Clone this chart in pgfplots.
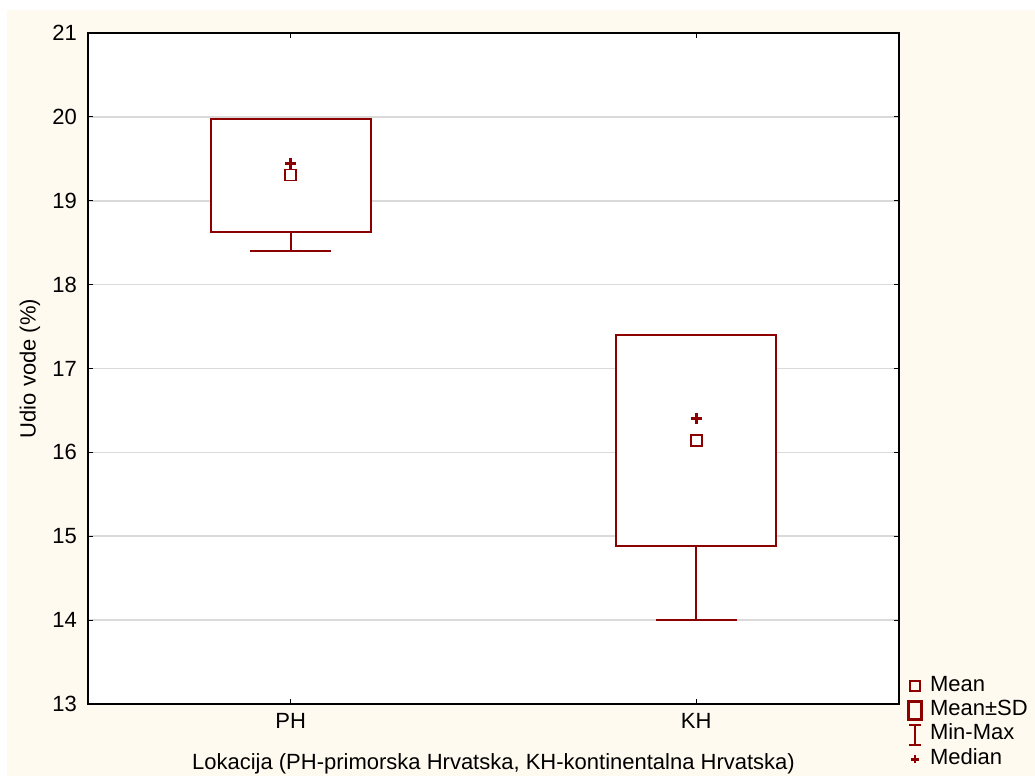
\documentclass[border=0pt]{standalone}
\usepackage{pgfplots}
\pgfplotsset{compat=1.18}
\usepgfplotslibrary{statistics}
\usepackage{fontspec}
\setmainfont{Liberation Sans}

\definecolor{boxred}{RGB}{140,0,0}
\definecolor{cream}{RGB}{255,250,240}
\definecolor{gridgray}{RGB}{218,218,218}

\begin{document}
\begin{tikzpicture}[font=\fontsize{11}{13}\selectfont]
% page and panel background (1px = 0.5pt, origin at the axis' lower left corner)
\fill[white] (-44pt,-37pt) rectangle (473.5pt,352pt);
\fill[cream] (-40.5pt,-36pt) rectangle (473.5pt,347pt);
\begin{axis}[
    scale only axis,
    width=405.5pt, height=335.5pt,
    xmin=0.5, xmax=2.5,
    ymin=13, ymax=21,
    xtick={1,2}, xticklabels={PH,KH},
    ytick={13,14,...,21},
    ymajorgrids,
    grid style={gridgray, line width=0.8pt},
    axis line style={line width=0.9pt},
    tick style={black, line width=0.6pt},
    tick align=inside,
    major tick length=2.5pt,
    axis background/.style={fill=white},
    /pgf/number format/assume math mode=true,
    yticklabel style={xshift=-2pt},
    xticklabel style={yshift=-1pt},
    xlabel={Lokacija (PH-primorska Hrvatska, KH-kontinentalna Hrvatska)},
    ylabel={Udio vode (\%)},
    x label style={at={(axis description cs:0.5,0)}, anchor=center, yshift=-30pt},
    y label style={at={(axis description cs:-0.0715,0.5)}, anchor=center},
    boxplot/draw direction=y,
    boxplot/draw/median/.code={},
    legend style={
        draw=none, fill=none,
        at={(rel axis cs:1.002,0.051)}, anchor=north west,
        row sep=0.2pt, column sep=2pt,
        nodes={inner sep=1.5pt, text height=7pt, text depth=2pt},
    },
    legend cell align=left,
]
% Mean +- SD boxes with Min-Max whiskers
\addplot[boxred, fill=white, line width=1pt, forget plot,
    boxplot prepared={lower whisker=18.40, lower quartile=18.63,
        median=19.30, upper quartile=19.976, upper whisker=19.976,
        box extend=0.395, whisker extend=0.2, draw position=1}]
    coordinates {};
\addplot[boxred, fill=white, line width=1pt, forget plot,
    boxplot prepared={lower whisker=14.00, lower quartile=14.88,
        median=16.14, upper quartile=17.40, upper whisker=17.40,
        box extend=0.395, whisker extend=0.2, draw position=2}]
    coordinates {};
% means
\addplot[only marks, mark=square, mark size=2.75pt, boxred,
    line width=0.75pt, mark options={fill=white}, forget plot]
    coordinates {(1,19.305) (2,16.14)};
% medians
\addplot[only marks, mark=+, mark size=2.75pt, boxred,
    line width=1.5pt, forget plot]
    coordinates {(1,19.45) (2,16.40)};

\addlegendimage{legend image code/.code={
    \path[draw=none, fill=none] (-4pt,-5pt) rectangle (4pt,5pt);
    \draw[draw=boxred, fill=none, line width=0.75pt] (-2.5pt,-2.5pt) rectangle (2.5pt,2.5pt);}}
\addlegendentry{Mean}
\addlegendimage{legend image code/.code={
    \path[draw=none, fill=none] (-4pt,-5pt) rectangle (4pt,5pt);
    \draw[draw=boxred, fill=none, line width=1.1pt] (-3.25pt,-4.5pt) rectangle (3.25pt,4.5pt);}}
\addlegendentry{Mean±SD}
\addlegendimage{legend image code/.code={
    \path[draw=none, fill=none] (-4pt,-5pt) rectangle (4pt,5pt);
    \draw[draw=boxred, fill=none, line width=0.75pt] (-3pt,5pt) -- (3pt,5pt)
        (0,5pt) -- (0,-5pt) (-3pt,-5pt) -- (3pt,-5pt);}}
\addlegendentry{Min-Max}
\addlegendimage{legend image code/.code={
    \path[draw=none, fill=none] (-4pt,-5pt) rectangle (4pt,5pt);
    \draw[draw=boxred, fill=none, line width=1.3pt] (-2pt,0) -- (2pt,0) (0,-2pt) -- (0,2pt);}}
\addlegendentry{Median}
\end{axis}
\pgfresetboundingbox
\path[use as bounding box] (-44pt,-37pt) rectangle (473.5pt,352pt);
\end{tikzpicture}
\end{document}
